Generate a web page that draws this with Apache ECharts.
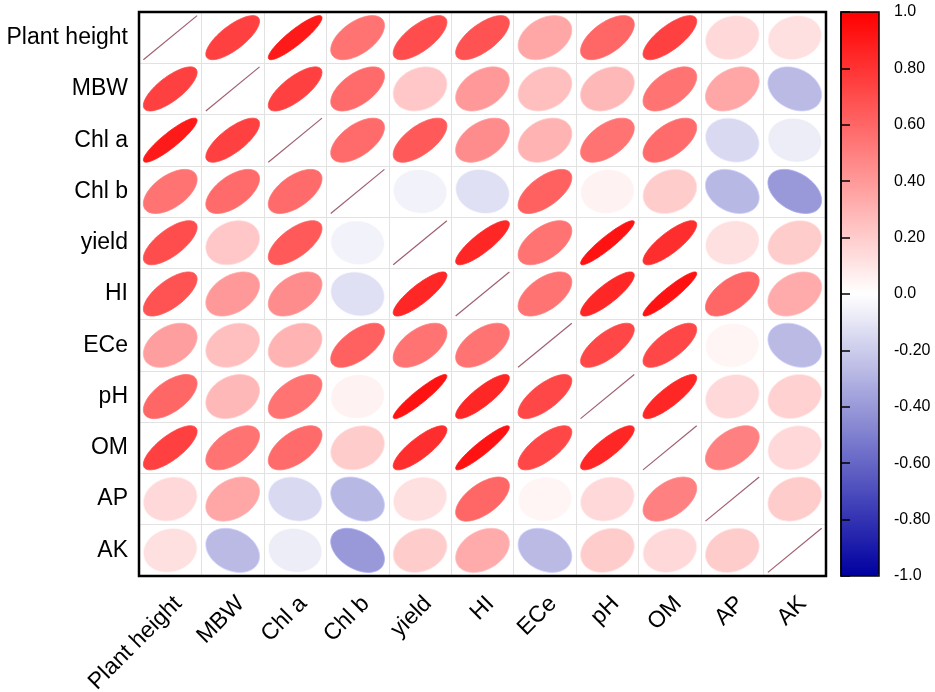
<!DOCTYPE html>
<html>
<head>
    <meta charset="UTF-8" />
    <title>Correlation ellipse matrix</title>
    <script src="https://cdn.jsdelivr.net/npm/echarts@6/dist/echarts.min.js"></script>
    <style>
        html, body { margin: 0; padding: 0; background: #fff; }
        #main { width: 935px; height: 692px; }
    </style>
</head>
<body>
<div id="main"></div>
<script>
var chartDom = document.getElementById('main');
var myChart = echarts.init(chartDom);

/* variable names, same order on both axes */
var varNames = ['Plant height', 'MBW', 'Chl a', 'Chl b', 'yield', 'HI', 'ECe', 'pH', 'OM', 'AP', 'AK'];

/* correlation matrix, one row per variable */
var corr = [
    [1.00, 0.75, 0.90, 0.55, 0.70, 0.68, 0.35, 0.60, 0.75, 0.15, 0.12],
    [0.75, 1.00, 0.75, 0.58, 0.22, 0.40, 0.25, 0.28, 0.55, 0.35, -0.27],
    [0.90, 0.75, 1.00, 0.58, 0.65, 0.45, 0.30, 0.55, 0.58, -0.15, -0.07],
    [0.55, 0.58, 0.58, 1.00, -0.05, -0.12, 0.62, 0.05, 0.20, -0.28, -0.40],
    [0.70, 0.22, 0.65, -0.05, 1.00, 0.85, 0.55, 0.93, 0.82, 0.12, 0.20],
    [0.68, 0.40, 0.45, -0.12, 0.85, 1.00, 0.55, 0.85, 0.93, 0.60, 0.33],
    [0.38, 0.25, 0.30, 0.62, 0.55, 0.55, 1.00, 0.72, 0.72, 0.04, -0.27],
    [0.60, 0.28, 0.55, 0.05, 0.93, 0.85, 0.72, 1.00, 0.85, 0.15, 0.18],
    [0.75, 0.55, 0.58, 0.20, 0.82, 0.93, 0.72, 0.85, 1.00, 0.50, 0.15],
    [0.15, 0.35, -0.15, -0.28, 0.12, 0.60, 0.04, 0.15, 0.50, 1.00, 0.20],
    [0.12, -0.27, -0.07, -0.40, 0.20, 0.33, -0.27, 0.20, 0.15, 0.20, 1.00]
];

/* colour bar ticks */
var cbTicks = [1, 0.8, 0.6, 0.4, 0.2, 0, -0.2, -0.4, -0.6, -0.8, -1];
var cbTickLabels = ['1.0', '0.80', '0.60', '0.40', '0.20', '0.0', '-0.20', '-0.40', '-0.60', '-0.80', '-1.0'];

var FONT = 'Arial, "Liberation Sans", sans-serif';

// [col, row, r]
var cells = [];
for (var i = 0; i < corr.length; i++) {
    for (var j = 0; j < corr[i].length; j++) {
        cells.push([j, i, corr[i][j]]);
    }
}

// ellipse like corrplot: x = cos(t + d/2), y = cos(t - d/2), d = acos(r)
function renderItem(params, api) {
    var col = api.value(0), row = api.value(1), r = api.value(2);
    var c = api.coord([col, row]);
    var s = api.size([1, 1]);
    var hw = s[0] / 2 * 0.86, hh = s[1] / 2 * 0.86;
    if (col === row) {
        return {
            type: 'line',
            shape: { x1: c[0] - hw, y1: c[1] + hh, x2: c[0] + hw, y2: c[1] - hh },
            style: { stroke: '#a0606e', lineWidth: 1.2 }
        };
    }
    var d = Math.acos(Math.max(-1, Math.min(1, r)));
    var pts = [];
    for (var k = 0; k < 72; k++) {
        var t = k / 72 * Math.PI * 2;
        pts.push([c[0] + Math.cos(t + d / 2) * hw, c[1] - Math.cos(t - d / 2) * hh]);
    }
    var fill = api.visual('color');
    return {
        type: 'polygon',
        shape: { points: pts },
        style: { fill: fill, stroke: echarts.color.lift(fill, -0.12), lineWidth: 0.8 }
    };
}

var option = {
    backgroundColor: '#fff',
    animation: false,
    grid: [
        {
            left: 139, top: 12, width: 687, height: 564, outerBoundsMode: 'none',
            show: true, borderColor: '#000', borderWidth: 2.5, backgroundColor: 'transparent', z: 5
        },
        {
            left: 841, top: 12, width: 38, height: 564, outerBoundsMode: 'none',
            show: true, borderColor: '#000', borderWidth: 1.5, z: 10
        }
    ],
    xAxis: [
        {
            type: 'category', data: varNames, gridIndex: 0,
            axisLine: { show: false }, axisTick: { show: false },
            splitLine: { show: true, lineStyle: { color: '#e2e2e2', width: 1 } },
            axisLabel: {
                rotate: 45, fontSize: 23, color: '#000', fontFamily: FONT, margin: 16, interval: 0,
                align: 'right', verticalAlign: 'top'
            }
        },
        { type: 'value', gridIndex: 1, min: 0, max: 1, show: false }
    ],
    yAxis: [
        {
            type: 'category', data: varNames, gridIndex: 0, inverse: true,
            axisLine: { show: false }, axisTick: { show: false },
            splitLine: { show: true, lineStyle: { color: '#e2e2e2', width: 1 } },
            axisLabel: { fontSize: 23, color: '#000', fontFamily: FONT, margin: 11, interval: 0 }
        },
        {
            type: 'value', gridIndex: 1, min: -1, max: 1, interval: 0.2, position: 'right', z: 10,
            axisLine: { show: true, lineStyle: { color: '#000', width: 1.5 } },
            axisTick: { show: true, length: 9, lineStyle: { color: '#000', width: 1.5 } },
            splitLine: { show: false },
            axisLabel: {
                fontSize: 16, color: '#000', fontFamily: FONT, margin: 15,
                formatter: function (v) {
                    var idx = cbTicks.findIndex(function (t) { return Math.abs(t - v) < 1e-6; });
                    return idx >= 0 ? cbTickLabels[idx] : '';
                }
            }
        }
    ],
    visualMap: {
        type: 'continuous',
        min: -1, max: 1,
        dimension: 2,
        seriesIndex: 0,
        calculable: false,
        hoverLink: false,
        left: 841, top: 12,
        padding: 0,
        itemWidth: 38, itemHeight: 564,
        text: null,
        showLabel: false,
        inRange: { color: ['#0000a0', '#ffffff', '#ff0000'] }
    },
    series: [{
        type: 'custom',
        xAxisIndex: 0, yAxisIndex: 0,
        renderItem: renderItem,
        data: cells,
        encode: { x: 0, y: 1 }
    }]
};

myChart.setOption(option);
</script>
</body>
</html>
